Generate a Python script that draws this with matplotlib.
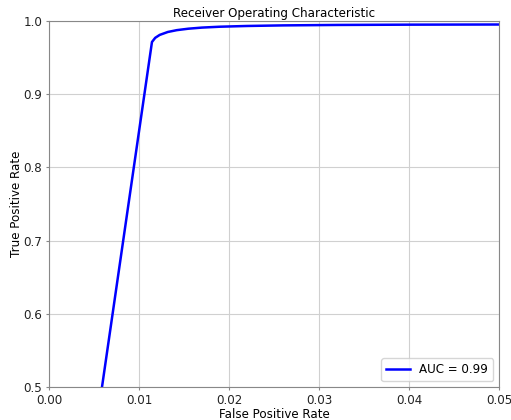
import matplotlib
matplotlib.use("Agg")
import matplotlib.pyplot as plt

# ROC curve points
fpr = [0.0, 0.01144, 0.0118, 0.0123, 0.0132, 0.0142, 0.0155, 0.0170, 0.0190,
       0.0220, 0.0260, 0.0320, 0.0400, 0.0500]
tpr = [0.0, 0.9713, 0.9770, 0.9810, 0.9850, 0.9875, 0.9895, 0.9910, 0.9922,
       0.9932, 0.9940, 0.9946, 0.9950, 0.9952]
auc_label = "AUC = 0.99"

FS = 8.6
fig = plt.figure(figsize=(5.11, 4.20), dpi=100)
ax = fig.add_axes([0.0959, 0.0786, 0.8806, 0.8714])
ax.plot(fpr, tpr, color="blue", lw=1.8, label=auc_label)
ax.set_xlim(0, 0.05)
ax.set_ylim(0.5, 1.0)
ax.set_title("Receiver Operating Characteristic", fontsize=FS, pad=3)
ax.set_xlabel("False Positive Rate", fontsize=FS, labelpad=1)
ax.set_ylabel("True Positive Rate", fontsize=FS, labelpad=0)
ax.grid(True, color="#d0d0d0", lw=0.8)
ax.set_axisbelow(True)
for s in ax.spines.values():
    s.set_color("#888888")
ax.tick_params(colors="#888888", labelcolor="#222222", labelsize=FS,
               length=2.5, pad=2.5)
ax.legend(loc="lower right", fontsize=FS)
fig.savefig("out.png", dpi=100)
